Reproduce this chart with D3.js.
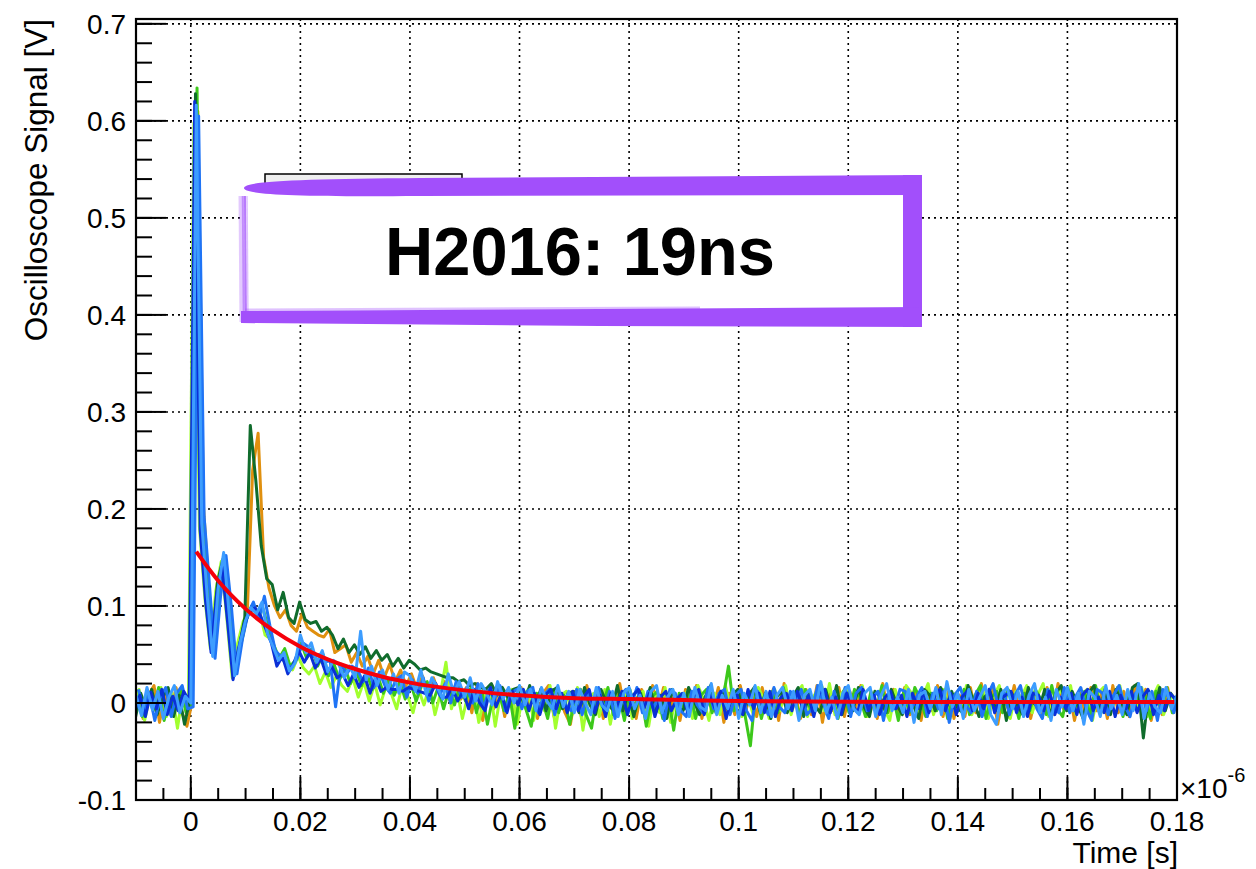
<!DOCTYPE html>
<html>
<head>
<meta charset="utf-8">
<script src="https://cdn.jsdelivr.net/npm/d3@7"></script>
<style>
  html, body { margin: 0; padding: 0; background: #fff; }
  svg { display: block; }
  text { font-family: "Liberation Sans", Arial, Helvetica, sans-serif; }
</style>
</head>
<body>
<div id="viz"></div>
<script>
// Sampling of the oscilloscope traces (x axis is in units of 1e-6 s)
const timeStart = -0.010;
const timeStep = 0.001;

// Trace values in mV, one value per sample (rows = 10 samples)
const traceOrange = [
  14, -16, 8, 18, -20, 10, -12, 16, -8, -24,
  2, 610, 205, 118, 58, 120, 150, 96, 36, 64,
  90, 240, 278, 150, 118, 100, 88, 96, 80, 74,
  92, 78, 74, 70, 68, 76, 52, 56, 60, 42,
  52, 38, 48, 30, 44, 26, 40, 22, 34, 18,
  30, 14, 28, 6, 26, 10, 22, 2, 18, 4,
  16, -10, 20, -18, 14, -6, 18, -14, 12, -20,
  16, -8, 14, -16, 10, 18, -14, 8, -10, -22,
  12, -14, 18, -8, 14, -16, 10, -12, 20, -10,
  8, -16, 14, -12, 18, -8, 16, -14, 10, -18,
  14, -10, 18, -16, 12, -6, 16, -20, 10, -12,
  18, -8, 12, -14, 16, -10, 14, -18, 20, -6,
  10, -16, 14, -12, 18, -20, 12, -8, 16, -14,
  12, -6, 18, -14, 10, -16, 20, -10, 14, -12,
  16, -12, 10, -18, 14, -8, 18, -14, 12, -16,
  8, -14, 16, -10, 20, -12, 14, -22, 10, -8,
  18, -10, 12, -16, 8, -14, 16, -12, 20, -6,
  14, -18, 10, -12, 16, -8, 12, -16, 18, -10,
  12, -14, 18, -6, 14, -18, 10, -12, 16, -10,
  8
];

const traceLime = [
  -12, 14, -18, 8, -6, 16, -14, 10, -26, 12,
  0, 598, 182, 108, 56, 116, 146, 88, 26, 62,
  84, 96, 90, 94, 70, 66, 50, 46, 40, 34,
  48, 36, 30, 38, 20, 32, 16, 28, 18, 12,
  26, 6, 22, 2, 20, -2, 16, 10, -6, 18,
  8, -10, 14, -2, 18, -12, 10, 42, -6, 14,
  -16, 8, 14, -20, 6, 16, -24, 10, -10, 14,
  -22, 6, 14, -18, 10, -8, 18, -26, 8, 12,
  -12, 16, -28, 6, 10, -14, 14, -22, 8, -8,
  14, -16, 6, 12, -24, 10, -10, 16, -20, 6,
  -8, 12, -16, 18, 4, -18, 10, -12, 18, -6,
  12, -14, 8, -10, 16, 4, -16, 14, -8, 18,
  -12, 10, 18, -14, 6, 14, -8, 20, -12, 8,
  16, -10, 6, 18, -14, 8, 12, -6, -18, 14,
  -8, 18, 10, -14, 6, 20, -12, 8, 14, -16,
  10, -6, 18, -12, 6, 14, -16, 8, 18, -10,
  -16, 12, 6, 18, -10, 8, 20, -14, 6, 12,
  8, 18, -12, 6, 14, -18, 10, 16, -8, 6,
  18, -10, 12, -6, 16, -14, 6, 18, -12, 8,
  -6
];

const traceGreen = [
  6, -14, 12, -8, 16, -18, 10, -6, 14, -10,
  -2, 634, 188, 116, 50, 112, 144, 94, 34, 60,
  86, 100, 94, 98, 78, 60, 46, 56, 38, 44,
  62, 46, 56, 38, 50, 28, 40, 24, 36, 20,
  34, 18, 30, 14, 28, 10, 24, 8, 22, 4,
  20, 2, 18, 22, 0, 16, -6, 14, -2, 18,
  2, 16, -10, 12, -22, 6, 14, -8, 10, -26,
  12, -6, -24, 10, 4, -16, 14, -10, 8, -22,
  4, 14, -12, -26, 10, -4, 16, -12, 8, -18,
  14, -8, 10, -24, 6, 12, -16, 8, -28, 10,
  -6, 12, -16, 8, 14, -10, 6, 4, 38, -8,
  10, -12, -44, 14, -16, 6, 12, -10, 16, -6,
  8, -14, 14, -8, 10, 18, -12, 6, -16, 12,
  -10, 14, 6, -14, 12, -6, 18, -10, 8, -18,
  12, -10, 16, 4, -14, 10, -8, 14, -16, 8,
  -8, 14, -12, 8, 18, -16, 6, 12, -10, 14,
  6, -16, 10, -8, 14, 4, -12, 18, -6, -14,
  14, -8, 6, 12, -14, 18, -10, 8, -6, 16,
  -14, 10, -6, 14, 8, -16, 12, -8, 16, -10,
  4
];

const traceDarkGreen = [
  -16, 10, -6, 14, -12, 6, 16, -14, 8, -22,
  4, 628, 188, 112, 54, 124, 148, 90, 32, 58,
  88, 286, 230, 162, 128, 122, 96, 114, 88, 82,
  104, 86, 82, 84, 74, 78, 70, 56, 66, 52,
  60, 50, 58, 46, 54, 44, 50, 38, 46, 36,
  44, 40, 34, 36, 32, 30, 28, 26, 26, 22,
  24, 18, 20, 16, 14, 20, 8, 16, 6, 14,
  16, -2, 18, -4, 14, -8, 12, 16, -6, 10,
  12, -10, 16, -2, -12, 14, 0, -6, 18, -8,
  10, -14, 12, -2, 16, -10, 8, -16, 14, -4,
  -8, 16, 2, -12, 6, 18, -10, 12, -6, 8,
  14, -12, 8, 16, -8, 10, -16, 6, 12, -10,
  6, 16, -14, 10, -2, -10, 14, -6, 18, -12,
  10, -8, 16, -4, -14, 12, 6, -10, 14, -2,
  -12, 10, -2, -16, 14, 8, -8, 16, -6, 12,
  -4, -10, 18, 2, -14, 6, 12, -8, 14, -18,
  10, -2, -12, 16, 0, -6, 14, -14, 10, 18,
  -8, 12, -2, -16, 10, 18, -10, 14, -12, 14,
  0, -12, 16, 20, -36, 12, -6, 16, -8, 10,
  2
];

const traceBlue = [
  14, -8, 10, -18, 6, 16, -14, 10, 18, -6,
  -4, 605, 192, 120, 46, 110, 152, 98, 30, 66,
  92, 104, 86, 110, 80, 54, 48, 40, 36, 46,
  62, 58, 48, 50, 42, 44, -4, 40, 30, 38,
  34, 22, 36, 16, 32, 18, 10, 24, 28, 6,
  24, 10, 26, 2, 22, 8, 20, 0, 22, 6,
  16, 0, 20, -6, 14, 4, 18, -8, 10, 14,
  -6, 12, 16, -10, 8, 14, -12, 10, -2, -8,
  14, -12, 10, -4, 16, -8, 12, -16, 8, 14,
  -2, 16, -10, 12, -6, 8, -18, 14, 10, -8,
  -14, 12, -2, -10, 16, -6, 10, 14, -12, 8,
  14, -8, -18, 12, -2, -12, 16, -4, -10, 12,
  -2, 14, -12, -6, 18, 0, -16, 12, -8, 16,
  -14, 10, 16, -8, 6, 12, -18, 10, -6, 14,
  12, -8, 6, 16, -14, 10, -6, 12, -20, 8,
  16, -2, -10, 12, -14, 8, 20, -6, 12, -12,
  8, 18, -8, 12, -6, -16, 14, 0, -10, 16,
  -10, 6, 16, -6, -18, 14, 10, -12, 8, 18,
  -2, -14, 10, 16, -8, 12, -18, 14, 6, -10,
  12
];

const traceDarkBlue = [
  -10, 8, -14, 11, -6, 14, -12, 7, -8, 12,
  2, 620, 178, 104, 52, 112, 140, 84, 24, 56,
  80, 94, 98, 90, 76, 62, 38, 48, 30, 40,
  54, 42, 52, 36, 46, 30, 38, 26, 30, 18,
  30, 16, 28, 10, 26, 12, 16, 14, 14, 12,
  16, 14, 12, 10, 8, 20, 6, 6, 16, 2,
  12, -6, 14, 0, -8, 16, -4, 10, -10, 12,
  -2, 14, -8, 10, -12, 8, 14, -6, 10, -10,
  12, -8, 6, 14, -10, 8, -14, 10, -4, 12,
  -12, 8, 14, -6, 10, -14, 6, 12, -8, 4,
  10, -10, 6, 14, -12, 8, -6, 12, -16, 6,
  8, -12, 14, -6, 10, -10, 12, -14, 6, 10,
  -8, 12, -6, 8, -14, 10, 14, -10, 6, -12,
  10, -2, -10, 14, -8, 8, -12, 6, 12, -6,
  8, -14, 10, -6, 12, -10, 6, 14, -8, 10,
  -12, 6, 12, -8, 10, -6, 14, -10, 4, 8,
  12, -10, 6, -14, 10, 8, -8, 12, -12, 6,
  -6, 10, -12, 8, 14, -8, 6, -10, 12, -14,
  8, -6, 12, -10, 6, 14, -12, 8, -8, 10,
  4
];

const traceLightBlue = [
  8, -13, 16, -7, 12, -16, 6, 18, -10, 7,
  0, 616, 185, 110, 48, 118, 155, 92, 28, 62,
  85, 98, 92, 104, 72, 58, 44, 52, 33, 41,
  70, 52, 62, 42, 54, 32, 44, 40, 26, 38,
  26, 74, 24, 38, 18, 34, 14, 30, 10, 32,
  28, 12, 34, 8, 26, 16, 4, 30, 10, 22,
  6, 26, 2, 20, 10, -2, 22, 4, 16, 0,
  18, -2, 14, -8, 16, 2, -6, 18, -4, 12,
  -10, 14, 0, -12, 16, -2, -8, 12, -14, 10,
  16, -6, 8, -16, 12, 18, -10, 6, 14, -12,
  10, -14, 16, -4, -8, 20, -12, 8, -6, 14,
  -16, 10, -2, 18, -10, 12, -14, 8, 16, -6,
  12, -18, 8, 14, -8, 22, -10, 6, -16, 10,
  18, -6, -12, 10, 16, -14, 8, 20, -8, 6,
  -10, 14, -20, 8, 12, -6, 16, -12, 22, -4,
  10, -16, 14, -8, 6, 18, -12, -22, 10, 16,
  -6, 12, -14, 8, 20, -10, 6, -18, 14, -4,
  16, -8, 10, -22, 12, 6, -14, 18, -6, 8,
  -12, 14, -8, 20, -16, 10, -4, -10, 16, -6,
  8
];

// drawing order, bottom to top; each trace has its own trigger offset (1e-6 s)
const traces = [traceOrange, traceLime, traceGreen, traceDarkGreen, traceBlue, traceDarkBlue, traceLightBlue];
const traceColors = ['#e0900f', '#a2ff2e', '#3cc81a', '#106c2c', '#1f74f6', '#0a30d6', '#3d9dff'];
const traceOffsets = [0.00029, -0.00043, 0.00014, -0.00014, 0.00043, -0.00029, 0];

// exponential fit (red), V vs 1e-6 s
const fitTime = [0.001, 0.005, 0.010, 0.015, 0.020, 0.025, 0.030, 0.035, 0.040, 0.050, 0.060, 0.070, 0.080, 0.090, 0.100, 0.120, 0.140, 0.160, 0.1795];
const fitValue = [0.156, 0.126, 0.097, 0.075, 0.058, 0.045, 0.035, 0.027, 0.021, 0.013, 0.008, 0.005, 0.004, 0.003, 0.002, 0.0012, 0.001, 0.001, 0.001];

const xTicks = [0, 0.02, 0.04, 0.06, 0.08, 0.1, 0.12, 0.14, 0.16, 0.18];
const xTickLabels = ['0', '0.02', '0.04', '0.06', '0.08', '0.1', '0.12', '0.14', '0.16', '0.18'];
const yTicks = [-0.1, 0, 0.1, 0.2, 0.3, 0.4, 0.5, 0.6, 0.7];
const yTickLabels = ['-0.1', '0', '0.1', '0.2', '0.3', '0.4', '0.5', '0.6', '0.7'];

const annotation = 'H2016: 19ns';

const config = {
  width: 1256,
  height: 869,
  frame: { left: 136, right: 1177, top: 19, bottom: 800 },
  xDomain: [-0.01, 0.18],
  yDomain: [-0.1, 0.705]
};

const svg = d3.select('#viz').append('svg')
  .attr('width', config.width)
  .attr('height', config.height)
  .attr('viewBox', `0 0 ${config.width} ${config.height}`);

svg.append('rect').attr('width', config.width).attr('height', config.height).attr('fill', '#fff');

const f = config.frame;
const x = d3.scaleLinear().domain(config.xDomain).range([f.left, f.right]);
const y = d3.scaleLinear().domain(config.yDomain).range([f.bottom, f.top]);

svg.append('clipPath').attr('id', 'clip')
  .append('rect')
  .attr('x', f.left).attr('y', f.top)
  .attr('width', f.right - f.left).attr('height', f.bottom - f.top);

// dotted grid
const grid = svg.append('g').attr('stroke', '#000').attr('stroke-width', 1.6).attr('stroke-dasharray', '2,4');
grid.selectAll('.gx').data(xTicks.filter(d => d < 0.179)).join('line')
  .attr('x1', d => x(d)).attr('x2', d => x(d))
  .attr('y1', f.top).attr('y2', f.bottom);
grid.selectAll('.gy').data(yTicks.filter(d => d > -0.1)).join('line')
  .attr('x1', f.left).attr('x2', f.right)
  .attr('y1', d => y(d)).attr('y2', d => y(d));

// traces
const traceG = svg.append('g').attr('clip-path', 'url(#clip)');
traceG.selectAll('path').data(traces).join('path')
  .attr('d', (d, k) => d3.line()
    .x((v, i) => x(timeStart + traceOffsets[k] + i * timeStep))
    .y(v => y(v / 1000))(d))
  .attr('fill', 'none')
  .attr('stroke', (d, i) => traceColors[i])
  .attr('stroke-width', 3)
  .attr('stroke-linejoin', 'round');

// fit
const fitLine = d3.line()
  .x(d => x(d[0]))
  .y(d => y(d[1]))
  .curve(d3.curveMonotoneX);
svg.append('path')
  .attr('d', fitLine(d3.zip(fitTime, fitValue)))
  .attr('fill', 'none')
  .attr('stroke', '#f5000a')
  .attr('stroke-width', 4);

// ticks (inside frame)
const axes = svg.append('g').attr('stroke', '#000').attr('stroke-width', 2);
const yMinor = d3.range(-0.1, 0.701, 0.02);
axes.selectAll('.ym').data(yMinor).join('line')
  .attr('x1', f.left).attr('x2', f.left + 16)
  .attr('y1', d => y(d)).attr('y2', d => y(d));
axes.selectAll('.yM').data(yTicks).join('line')
  .attr('x1', f.left).attr('x2', f.left + 30)
  .attr('y1', d => y(d)).attr('y2', d => y(d));
const xMinor = d3.range(-0.01, 0.1801, 0.005);
axes.selectAll('.xm').data(xMinor).join('line')
  .attr('x1', d => x(d)).attr('x2', d => x(d))
  .attr('y1', f.bottom).attr('y2', f.bottom - 12);
axes.selectAll('.xM').data(xTicks).join('line')
  .attr('x1', d => x(d)).attr('x2', d => x(d))
  .attr('y1', f.bottom).attr('y2', f.bottom - 23);

svg.append('rect')
  .attr('x', f.left).attr('y', f.top)
  .attr('width', f.right - f.left).attr('height', f.bottom - f.top)
  .attr('fill', 'none').attr('stroke', '#000').attr('stroke-width', 2.2);

// tick labels
svg.append('g').selectAll('text').data(yTicks).join('text')
  .attr('x', 126).attr('y', d => y(d))
  .attr('dy', '0.36em')
  .attr('text-anchor', 'end')
  .attr('font-size', 28)
  .text((d, i) => yTickLabels[i]);

svg.append('g').selectAll('text').data(xTicks).join('text')
  .attr('x', d => x(d)).attr('y', 831)
  .attr('text-anchor', 'middle')
  .attr('font-size', 28)
  .text((d, i) => xTickLabels[i]);

const expo = svg.append('text').attr('x', 1180).attr('y', 798).attr('font-size', 28);
expo.append('tspan').text('\u00d710');
expo.append('tspan').attr('dy', -16).attr('font-size', 20).text('-6');

svg.append('text')
  .attr('x', 1178).attr('y', 863)
  .attr('text-anchor', 'end')
  .attr('font-size', 30)
  .text('Time [s]');

svg.append('text')
  .attr('transform', `translate(47, ${f.top}) rotate(-90)`)
  .attr('text-anchor', 'end')
  .attr('font-size', 31.5)
  .text('Oscilloscope Signal [V]');

// stat box peeking out behind the annotation
svg.append('rect')
  .attr('x', 265).attr('y', 174).attr('width', 197).attr('height', 30)
  .attr('fill', '#efefef').attr('stroke', '#000').attr('stroke-width', 1.5);

// hand drawn purple annotation box
const purple = '#a24ffb';
const ann = svg.append('g');
ann.append('rect').attr('x', 244).attr('y', 190).attr('width', 664).attr('height', 122).attr('fill', '#fff');
[[241, 0.3, 5], [243, 0.5, 2.5], [245, 0.75, 2], [247, 0.35, 1.5]].forEach(([lx, op, w]) => {
  ann.append('line')
    .attr('x1', lx).attr('x2', lx + 1)
    .attr('y1', 196).attr('y2', 322)
    .attr('stroke', purple).attr('stroke-opacity', op).attr('stroke-width', w);
});
ann.append('path')
  .attr('d', 'M244,188 C244,181 300,179 420,178 L922,175 L922,195 L420,196 C300,197 244,195 244,188 Z')
  .attr('fill', purple);
ann.append('rect').attr('x', 903).attr('y', 175).attr('width', 19).attr('height', 152).attr('fill', purple);
ann.append('path')
  .attr('d', 'M241,311 L600,309 L922,307 L922,327 L600,326 L241,323 Z')
  .attr('fill', purple);
ann.append('path')
  .attr('d', 'M245,308.5 L700,306.5 L700,309 L245,311 Z')
  .attr('fill', purple).attr('fill-opacity', 0.35);

ann.append('text')
  .attr('x', 580).attr('y', 275)
  .attr('text-anchor', 'middle')
  .attr('font-family', 'Lato, "Open Sans", sans-serif')
  .attr('font-weight', 700)
  .attr('font-size', 68)
  .attr('textLength', 390)
  .attr('lengthAdjust', 'spacingAndGlyphs')
  .attr('fill', '#000')
  .text(annotation);
</script>
</body>
</html>
